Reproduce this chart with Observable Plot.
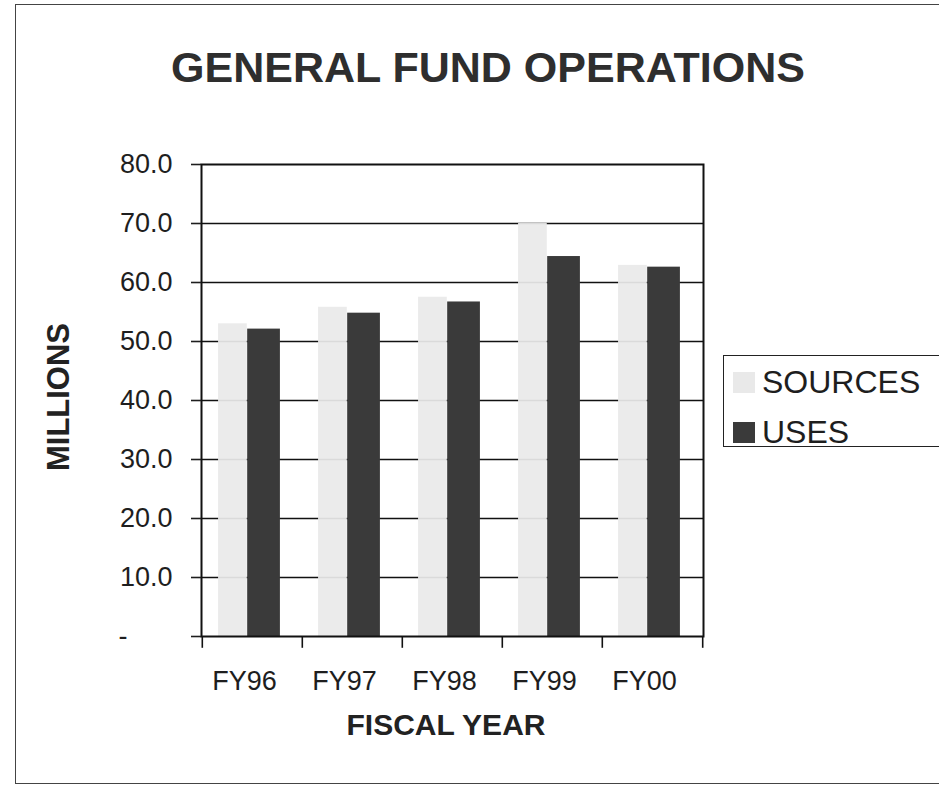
<!DOCTYPE html>
<html>
<head>
<meta charset="utf-8">
<script src="https://cdn.jsdelivr.net/npm/d3@7"></script>
<script src="https://cdn.jsdelivr.net/npm/@observablehq/plot@0.6"></script>
<style>
  html, body { margin: 0; padding: 0; background: #fff; }
  #wrap { position: relative; width: 939px; height: 787px; overflow: hidden; background: #fff;
          font-family: "Liberation Sans", Arial, Helvetica, sans-serif; color: #222; }
  #border { position: absolute; left: 15px; top: 4px; width: 940px; height: 780px; border: 1.5px solid #444; box-sizing: border-box; }
  #chart { position: absolute; left: 0; top: 0; }
  .title { position: absolute; left: 0; width: 976px; top: 46px; text-align: center; font-size: 43px; line-height: 43px; font-weight: bold; color: #2e2e2e; white-space: nowrap; }
  .xlabel { position: absolute; left: 246px; width: 400px; top: 710px; text-align: center; font-size: 30px; line-height: 30px; font-weight: bold; color: #222; }
  .ylabel { position: absolute; left: 58px; top: 397px; font-size: 31px; line-height: 31px; font-weight: bold; color: #222;
            transform: translate(-50%, -50%) rotate(-90deg); white-space: nowrap; }
  #legend { position: absolute; left: 723px; top: 355px; width: 220px; height: 92px; border: 1.5px solid #222; box-sizing: border-box; }
  .item { position: absolute; left: 9px; display: flex; align-items: center; font-size: 32px; line-height: 32px; color: #1e1e1e; }
  .sw { width: 22px; height: 21px; margin-right: 7px; }
</style>
</head>
<body>
<div id="wrap">
  <div id="border"></div>
  <div id="chart"></div>
  <div class="title">GENERAL FUND OPERATIONS</div>
  <div class="ylabel">MILLIONS</div>
  <div class="xlabel">FISCAL YEAR</div>
  <div id="legend"></div>
</div>
<script>
// ---- data ----
const years = ["FY96", "FY97", "FY98", "FY99", "FY00"];
const sources = [53.0, 55.8, 57.5, 70.0, 62.9];
const uses = [52.1, 54.8, 56.7, 64.4, 62.6];
const seriesNames = ["SOURCES", "USES"];
const seriesColors = ["#e9e9e9", "#3a3a3a"];
const yTicks = [0, 10, 20, 30, 40, 50, 60, 70, 80];
const gridTicks = [10, 20, 30, 40, 50, 60, 70];

const sourcesData = years.map((y, i) => ({year: y, value: sources[i]}));
const usesData = years.map((y, i) => ({year: y, value: uses[i]}));

const W = 939, H = 787;
const mL = 201, mR = 236, mT = 164, mB = 151;
const band = (W - mL - mR) / years.length;

const chart = Plot.plot({
  width: W,
  height: H,
  marginLeft: mL,
  marginRight: mR,
  marginTop: mT,
  marginBottom: mB,
  style: {fontFamily: "'Liberation Sans', Arial, sans-serif", fontSize: "27px", color: "#1e1e1e", background: "transparent", overflow: "visible"},
  x: {domain: years, padding: 0, axis: null, label: null},
  y: {domain: [0, 80], axis: null, label: null},
  marks: [
    Plot.gridY(gridTicks, {stroke: "#111", strokeOpacity: 1, strokeWidth: 1.6}),
    Plot.barY(sourcesData, {x: "year", y: "value", fill: seriesColors[0], fillOpacity: 0.93,
      insetLeft: band * 0.16, insetRight: band * 0.55}),
    Plot.barY(usesData, {x: "year", y: "value", fill: seriesColors[1],
      insetLeft: band * 0.45, insetRight: band * 0.22}),
    Plot.frame({stroke: "#111", strokeWidth: 2}),
    Plot.axisY({ticks: yTicks, tickSize: 10, tickPadding: 19, strokeWidth: 1.6, label: null,
      tickFormat: d => d === 0 ? "-\u2007\u2007\u2007" : d.toFixed(1), fontSize: 27}),
    Plot.axisX({tickSize: 0, tickPadding: 34, dx: -8, fontSize: 27, label: null}),
    Plot.ruleX(years, {x: d => d, dx: -band / 2, y1: 0, y2: -2, stroke: "#111", strokeWidth: 1.6}),
    Plot.ruleX(years.slice(-1), {x: d => d, dx: band / 2, y1: 0, y2: -2, stroke: "#111", strokeWidth: 1.6})
  ]
});
document.getElementById("chart").appendChild(chart);

// legend
const legend = document.getElementById("legend");
const tops = [10, 60];
seriesNames.forEach((name, i) => {
  const item = document.createElement("div");
  item.className = "item";
  item.style.top = tops[i] + "px";
  const sw = document.createElement("div");
  sw.className = "sw";
  sw.style.background = seriesColors[i];
  const label = document.createElement("span");
  label.textContent = name;
  item.appendChild(sw);
  item.appendChild(label);
  legend.appendChild(item);
});
</script>
</body>
</html>
